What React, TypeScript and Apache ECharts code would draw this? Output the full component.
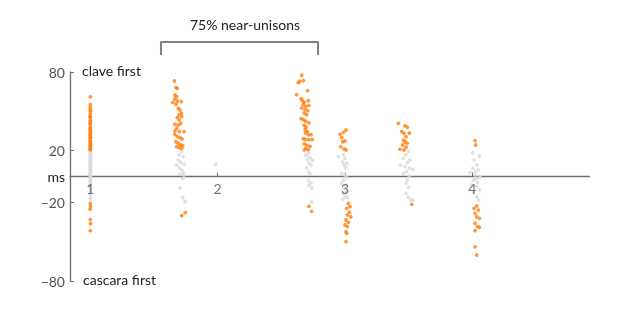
import React, { useEffect, useRef } from "react";
import * as echarts from "echarts";

// [x position, offset in ms]
const group1: number[][] = [
  [1.0, 61], [1.001, 55], [0.999, 53], [1.0, 51], [1.002, 50], [1.0, 48], [0.999, 46], [1.001, 45],
  [1.0, 43], [1.002, 42], [0.999, 41], [1.0, 40], [1.001, 38], [1.0, 37], [0.999, 36], [1.002, 35],
  [1.0, 34], [1.001, 33], [0.999, 32], [1.0, 31], [1.002, 30], [1.0, 29.5], [0.999, 28], [1.001, 27],
  [1.0, 26], [1.002, 25], [0.999, 24], [1.0, 23], [1.001, 22], [1.0, 21], [0.999, 20.5],
  [1.0, 20], [1.001, 19], [0.999, 18.5], [1.0, 17], [1.002, 16], [1.0, 15], [0.999, 14], [1.001, 13],
  [1.0, 12], [1.002, 11], [0.999, 10], [1.0, 9], [1.001, 8], [1.0, 7], [0.999, 6], [1.002, 5],
  [1.0, 4], [1.001, 3], [0.999, 2], [1.0, 1], [1.002, 0], [1.0, -1], [0.999, -2], [1.001, -3],
  [1.0, -4], [1.002, -5], [0.999, -6], [1.0, -7], [1.001, -9], [1.0, -11], [0.999, -13], [1.002, -15],
  [1.0, -17], [1.001, -19],
  [1.0, -21], [1.001, -23], [0.999, -25], [1.0, -33], [1.001, -36], [1.0, -41.5],
];

const group2: number[][] = [
  [1.66, 73.1], [1.673, 68], [1.683, 67.5], [1.665, 62.4], [1.678, 61.1], [1.663, 59.3], [1.647, 56.8],
  [1.683, 57.8], [1.715, 57.3], [1.673, 55.3], [1.691, 52.2], [1.704, 50.9], [1.715, 48.4], [1.697, 47.1],
  [1.718, 45.8], [1.683, 45], [1.699, 43.3], [1.665, 40], [1.691, 39.4], [1.71, 40.7], [1.678, 36.9],
  [1.665, 34.8], [1.699, 34.3], [1.736, 34.3], [1.663, 32.3], [1.683, 30.5], [1.704, 29.7], [1.72, 28.7],
  [1.673, 26.6], [1.691, 25.4], [1.71, 24.1], [1.726, 23.6], [1.678, 22.8], [1.699, 22.1], [1.718, 21.6],
  [1.718, 19], [1.699, 16.5], [1.73, 15.2], [1.691, 12.6], [1.71, 10.9], [1.678, 8.8], [1.736, 9.3],
  [1.699, 6.7], [1.718, 5], [1.73, 3.2], [1.704, 1.7], [1.736, 1.1], [1.726, -1.4], [1.704, -8.6],
  [1.726, -16.2], [1.744, -19.3],
  [1.718, -30], [1.746, -27.7],
  [1.985, 9.3],
];

const group3: number[][] = [
  [2.66, 77.5], [2.644, 72.9], [2.673, 73.4], [2.633, 71.8], [2.707, 65.7], [2.62, 62.6], [2.655, 59.6],
  [2.665, 58], [2.68, 57], [2.712, 58], [2.673, 55], [2.691, 53.7], [2.717, 54.5], [2.66, 52.5],
  [2.686, 51.2], [2.707, 50.4], [2.68, 48.6], [2.699, 47.3], [2.655, 44.3], [2.673, 43.5], [2.691, 42.3],
  [2.717, 41], [2.68, 39.2], [2.694, 37.7], [2.686, 35.8], [2.702, 34.6], [2.691, 33.3], [2.712, 32],
  [2.733, 32], [2.673, 28.9], [2.691, 28.2], [2.717, 28.2], [2.743, 28.2], [2.68, 24.9], [2.702, 23.9],
  [2.725, 23.1], [2.691, 21.3], [2.712, 20.5], [2.68, 20.4],
  [2.712, 18], [2.691, 16.2], [2.725, 14.7], [2.707, 12.9], [2.743, 12.1], [2.717, 10.3], [2.733, 8.6],
  [2.699, 6.5], [2.717, 3.4], [2.725, 1.9], [2.712, -3.2], [2.733, -5], [2.717, -6.7], [2.738, -8.8],
  [2.738, -19.5],
  [2.717, -22.8], [2.738, -26.7],
];

const group4: number[][] = [
  [3.008, 35.6], [2.987, 33.8], [2.961, 32.3], [2.974, 29.7], [2.982, 26.6], [3.0, 27.2], [2.966, 22.8],
  [2.992, 21.1], [3.008, 20.3],
  [2.947, 15.2], [2.987, 16.5], [3.0, 13.9], [2.982, 11.3], [3.013, 10.1], [2.992, 8.8], [3.008, 6.7],
  [2.974, 2.4], [3.0, 1.1], [3.013, -0.9], [2.987, -2.7], [2.974, -5.2], [3.008, -6.5], [2.992, -9],
  [3.013, -11.6], [2.987, -12.9], [3.0, -15.5], [3.018, -16.2], [2.982, -17.5],
  [3.026, -20.5], [3.039, -23.1], [3.013, -24.4], [3.034, -27.4], [3.018, -29.5], [3.045, -30.8],
  [3.008, -33.3], [3.026, -35.1], [3.0, -37.1], [3.018, -38.4], [3.008, -42.3], [3.013, -43.5],
  [3.008, -49.9],
];

const group5: number[][] = [
  [3.419, 40.7], [3.471, 38.7], [3.489, 37.7], [3.445, 34.3], [3.463, 33.1], [3.505, 33.1], [3.479, 30.5],
  [3.458, 27.9], [3.471, 26.6], [3.489, 25.4], [3.453, 24.1], [3.432, 20.8], [3.463, 20.3], [3.479, 22.4],
  [3.497, 19], [3.479, 16.5], [3.458, 13.9], [3.51, 12.6], [3.489, 10.6], [3.437, 8.8], [3.471, 7.5],
  [3.505, 6.3], [3.532, 5.5], [3.484, 3.7], [3.458, 2.4], [3.505, 0.4], [3.489, -2.7], [3.479, -5.2],
  [3.497, -8.3], [3.479, -12.9], [3.497, -15.9], [3.516, -18], [3.532, -18],
  [3.524, -21.3],
];

const group6: number[][] = [
  [4.021, 27.4], [4.026, 24.1],
  [4.003, 18.2], [4.055, 15.7], [4.013, 12.6], [4.034, 8.8], [4.003, 6.3], [4.047, 5], [3.982, 2.9],
  [4.021, 1.1], [4.06, -0.2], [4.008, -2.7], [4.039, -4.7], [3.995, -6.5], [4.029, -7.8], [4.055, -10.3],
  [4.008, -12.4], [4.034, -15.5], [4.047, -18], [4.021, 3.5], [4.034, -1.5],
  [4.034, -22.6], [4.013, -24.4], [4.047, -25.7], [4.021, -28.2], [4.034, -30.8], [4.055, -32],
  [4.021, -35.8], [4.039, -38.4], [4.055, -38.9], [4.021, -41.5], [4.021, -53.8], [4.034, -60.1],
];

const unisonThreshold = 20;
const xTicks = [1, 2, 3, 4];
const yTickLabels = [80, 20, 0, -20, -80];
const yTicks = [80, 20, -20, -80];
const bracket: number[][] = [[1.555, 93], [1.555, 103], [2.788, 103], [2.788, 93]];
const bracketLabel = "75% near-unisons";
const topLabel = "clave first";
const bottomLabel = "cascara first";

const ORANGE = "#ff7f0e";
const GRAY = "#d9d9d9";
const FONT = "Lato";

export default function App() {
  const ref = useRef<HTMLDivElement>(null);
  useEffect(() => {
    if (!ref.current) return;
    const chart = echarts.init(ref.current, null, { renderer: "svg" });
    const all = [...group1, ...group2, ...group3, ...group4, ...group5, ...group6];
    const near = all.filter((p) => Math.abs(p[1]) <= unisonThreshold);
    const far = all.filter((p) => Math.abs(p[1]) > unisonThreshold);
    chart.setOption({
      animation: false,
      grid: { left: 70, right: 41.7, top: 72, bottom: 35 },
      xAxis: {
        type: "value",
        min: 0.8406,
        max: 4.918,
        splitLine: { show: false },
        axisLine: { onZero: true, lineStyle: { color: "#6e6e6e", width: 1.3 } },
        axisTick: { inside: true, length: 4, customValues: xTicks, lineStyle: { color: "#6e6e6e" } },
        axisLabel: { show: false },
      },
      yAxis: {
        type: "value",
        min: -80,
        max: 80,
        splitLine: { show: false },
        axisLine: { show: true, lineStyle: { color: "#6e6e6e", width: 1.3 } },
        axisTick: { show: true, inside: true, length: 4, customValues: yTicks, lineStyle: { color: "#6e6e6e" } },
        axisLabel: {
          customValues: yTickLabels,
          color: "#555",
          fontSize: 14,
          fontFamily: FONT,
          margin: 5,
          formatter: (v: number) => (v === 0 ? "{ms|ms}" : v < 0 ? "\u2212" + -v : String(v)),
          rich: { ms: { color: "#222", fontSize: 14, fontFamily: FONT } },
        },
      },
      series: [
        {
          type: "scatter",
          data: near,
          symbolSize: 3.8,
          itemStyle: { color: GRAY },
          z: 2,
        },
        {
          type: "scatter",
          data: far,
          symbolSize: 3.8,
          itemStyle: { color: ORANGE },
          z: 3,
        },
        {
          type: "scatter",
          data: xTicks.map((v) => [v, 0]),
          symbolSize: 1,
          itemStyle: { color: "transparent" },
          silent: true,
          label: {
            show: true,
            position: "bottom",
            distance: 4,
            formatter: (p: any) => String(p.value[0]),
            color: "#555",
            fontSize: 14,
            fontFamily: FONT,
          },
          z: 6,
        },
        {
          type: "line",
          data: bracket,
          clip: false,
          symbol: "none",
          lineStyle: { color: "#808080", width: 2 },
          z: 4,
        },
      ],
      graphic: [
        {
          type: "text",
          left: 190,
          top: 17,
          style: { text: bracketLabel, fontSize: 14, fontFamily: FONT, fill: "#222" },
        },
        {
          type: "text",
          left: 82,
          top: 63,
          style: { text: topLabel, fontSize: 14, fontFamily: FONT, fill: "#222" },
        },
        {
          type: "text",
          left: 83,
          top: 272,
          style: { text: bottomLabel, fontSize: 14, fontFamily: FONT, fill: "#222" },
        },
      ],
    });
    return () => chart.dispose();
  }, []);
  return (
    <div
      ref={ref}
      style={{ position: "fixed", left: 0, top: 0, width: 631, height: 316 }}
    />
  );
}
